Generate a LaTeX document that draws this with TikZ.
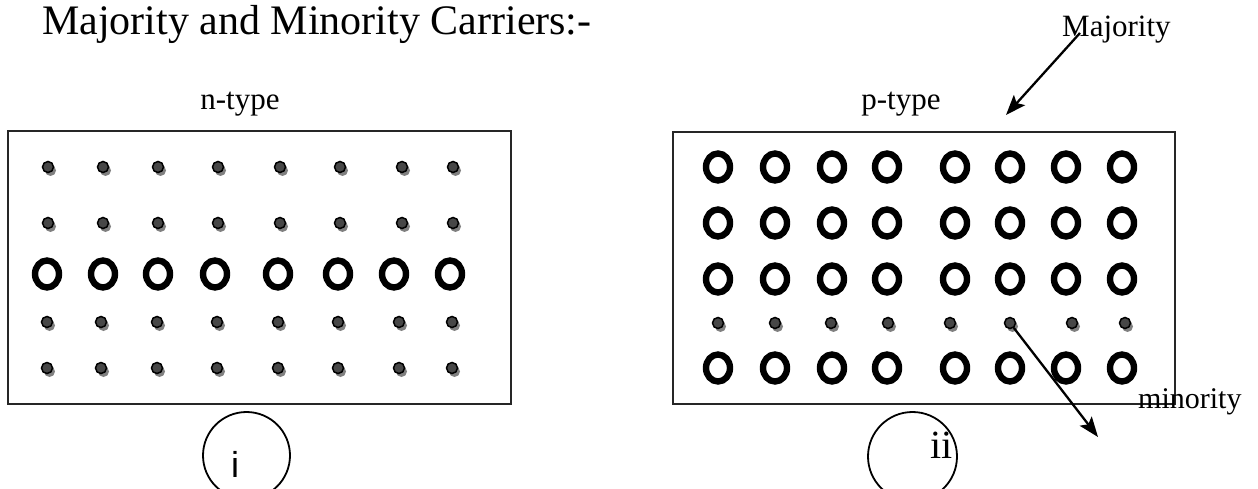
\documentclass[tikz,border=0pt]{standalone}
\usepackage{fontspec}
\setmainfont{Liberation Serif}
\newfontfamily\arialf{Liberation Sans}
\usetikzlibrary{shapes.geometric,arrows.meta,shadows}
\begin{document}
\begin{tikzpicture}[x=1pt,y=-1pt,
  frame/.style={rectangle,draw=black!85,line width=1.6pt,inner sep=0pt},
  hole/.style={ellipse,draw=black,line width=6.4pt,minimum width=24pt,minimum height=27pt,inner sep=0pt},
  elec/.style={circle,fill=black!72,draw=black,line width=1.5pt,minimum size=11pt,inner sep=0pt,
    drop shadow={shadow xshift=2.5pt,shadow yshift=-3.5pt,fill=black!50,opacity=1}},
  lbl/.style={inner sep=0pt,anchor=base},
  ptr/.style={line width=2.3pt,-{Stealth[length=20pt,width=15pt,inset=4pt]}},
  ring/.style={circle,draw=black,line width=1.8pt,minimum size=87pt,inner sep=0pt}]
\useasboundingbox (0,0) rectangle (1258,489);

% title and labels
\node[lbl,anchor=base west] (title) at (42,35) {\fontsize{42}{50}\selectfont Majority and Minority Carriers:-};
\node[lbl] (ntype) at (240,110) {\fontsize{31}{37}\selectfont n-type};
\node[lbl] (ptype) at (901,110) {\fontsize{31}{37}\selectfont p-type};
\node[lbl,anchor=base west] (maj) at (1062,37) {\fontsize{31}{37}\selectfont Majority};

% boxes
\node[frame,minimum width=503pt,minimum height=273pt] (nbox) at (259.5,267.5) {};
\node[frame,minimum width=502pt,minimum height=272pt] (pbox) at (924,268) {};

% n-type
\foreach \x [count=\i] in {48,103,158,218,280,340,402,453}
  \node[elec] (na\i) at (\x,167) {};
\foreach \x [count=\i] in {48,103,158,218,280,340,402,453}
  \node[elec] (nb\i) at (\x,223) {};
\foreach \x [count=\i] in {47,103,158,215,278,338,394,450}
  \node[hole] (nh\i) at (\x,274) {};
\foreach \x [count=\i] in {47,101,157,217,278,338,399,452}
  \node[elec] (nc\i) at (\x,322) {};
\foreach \x [count=\i] in {47,101,157,217,278,338,399,452}
  \node[elec] (nd\i) at (\x,368) {};

% p-type
\foreach \x [count=\i] in {718,775,832,887,955,1010,1066,1122}
  \node[hole] (pa\i) at (\x,167) {};
\foreach \x [count=\i] in {718,775,832,887,955,1010,1066,1122}
  \node[hole] (pb\i) at (\x,223) {};
\foreach \x [count=\i] in {718,775,832,887,955,1010,1066,1122}
  \node[hole] (pc\i) at (\x,279) {};
\foreach \x [count=\i] in {718,775,831,888,950,1010,1072,1125}
  \node[elec] (pd\i) at (\x,323) {};
\foreach \x [count=\i] in {718,775,832,887,955,1010,1066,1122}
  \node[hole] (pe\i) at (\x,368) {};

\node[lbl,anchor=base west] (mino) at (1138,408) {\fontsize{30}{36}\selectfont minority};

% arrows
\coordinate (majs) at (1080,33);
\coordinate (majt) at (1006,115);
\draw[ptr] (majs) -- (majt);
\coordinate (mint) at (1098,437);
\draw[ptr] (pd6) -- (mint);

% bottom circles
\node[ring] (ci) at (246.5,455.5) {};
\node[ring,minimum size=89pt] (cii) at (912.5,456.5) {};
\node[lbl] (ti) at (235,477) {\arialf\fontsize{36}{40}\selectfont i};
\node[lbl,anchor=base east] (tii) at (953,458) {\fontsize{40}{48}\selectfont ii};
\end{tikzpicture}
\end{document}
